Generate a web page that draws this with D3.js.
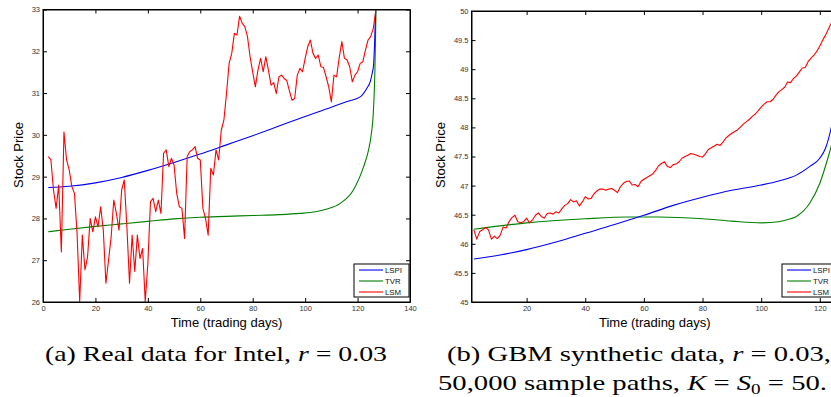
<!DOCTYPE html>
<html>
<head>
<meta charset="utf-8">
<script src="https://cdn.jsdelivr.net/npm/d3@7"></script>
<style>
  html, body { margin: 0; padding: 0; background: #fff; }
  svg { display: block; }
</style>
</head>
<body>
<svg id="chart" width="831" height="397"></svg>
<script>
// ---------------- DATA ----------------
const seriesNames = ["LSPI", "TVR", "LSM"];
const seriesColors = ["#0000ff", "#008000", "#ff0000"];

// Panel (a): real data for Intel
const aXTicks = [0, 20, 40, 60, 80, 100, 120, 140];
const aYTicks = [26, 27, 28, 29, 30, 31, 32, 33];
const aYTickLabels = ["26", "27", "28", "29", "30", "31", "32", "33"];
const aLSPI = [[2,28.74],[10,28.77],[20,28.85],[30,28.98],[40,29.15],[50,29.34],[60,29.54],[70,29.76],[80,29.98],[90,30.21],[100,30.44],[110,30.66],[116,30.80],[121,30.91],[123.5,31.11],[124.8,31.27],[125.7,31.51],[126.1,31.67],[126.5,32.2],[127,33.2]];
const aTVR = [[2,27.68],[10,27.74],[20,27.81],[30,27.87],[40,27.93],[50,27.99],[60,28.03],[70,28.05],[80,28.07],[90,28.09],[98,28.12],[104,28.16],[108,28.22],[113.4,28.36],[118.4,28.68],[122.3,29.24],[124.2,29.64],[125.2,30.0],[126,30.52],[126.6,31.5],[127.1,33.2]];
const aLSMStartDay = 2;
const aLSM = [29.48,29.41,28.68,28.24,28.80,27.20,30.07,29.40,29.16,28.76,
  28.60,27.64,26.01,27.60,26.77,27.08,28.00,27.68,28.04,27.80,
  28.28,27.72,26.45,27.00,27.56,28.44,28.12,27.72,28.68,28.92,
  27.80,26.45,27.60,26.73,27.60,27.04,27.28,26.01,26.92,28.40,
  28.48,28.16,28.44,28.12,29.56,29.64,29.24,29.44,29.28,28.60,
  28.28,28.24,27.52,29.48,29.60,29.64,29.72,29.44,29.40,28.24,
  28.00,27.60,29.20,29.04,29.64,29.40,30.11,30.35,30.99,31.71,
  31.95,32.43,32.39,32.84,32.67,32.59,32.35,31.87,31.50,31.15,
  31.55,31.83,31.51,31.87,31.55,31.19,31.25,30.99,31.39,31.43,
  31.35,31.30,31.05,30.83,30.87,31.43,31.59,31.51,31.83,32.11,
  32.27,31.95,31.83,31.91,31.63,31.61,31.39,31.15,30.79,31.43,
  31.39,31.85,32.23,31.83,31.79,31.63,31.27,31.43,31.51,31.71,
  31.75,32.03,32.27,32.35,32.55,33.00];

// Panel (b): GBM synthetic data
const bXTicks = [20, 40, 60, 80, 100, 120];
const bYTicks = [45, 45.5, 46, 46.5, 47, 47.5, 48, 48.5, 49, 49.5, 50];
const bYTickLabels = ["45", "45.5", "46", "46.5", "47", "47.5", "48", "48.5", "49", "49.5", "50"];
const bLSPI = [[2,45.74],[10,45.80],[20,45.90],[30,46.03],[40,46.18],[50,46.33],[60,46.49],[70,46.66],[80,46.80],[90,46.92],[100,47.01],[106,47.08],[112,47.18],[116.6,47.33],[120,47.47],[122,47.65],[124,48.02],[126,48.6]];
const bTVR = [[2,46.25],[20,46.36],[40,46.43],[55,46.46],[65,46.46],[80,46.43],[90,46.39],[100,46.36],[106,46.38],[110,46.43],[112,46.47],[116.6,46.70],[120,47.04],[122.9,47.50],[124,47.70],[126,48.3]];
const bLSMStartDay = 2;
const bLSM = [46.24,46.08,46.21,46.24,46.28,46.24,46.08,46.13,46.09,46.15,
  46.29,46.27,46.38,46.45,46.49,46.38,46.36,46.38,46.44,46.36,
  46.41,46.49,46.53,46.47,46.44,46.52,46.53,46.51,46.55,46.53,
  46.60,46.66,46.69,46.76,46.72,46.74,46.65,46.72,46.81,46.77,
  46.78,46.86,46.91,46.94,46.94,46.92,46.94,46.95,46.92,46.88,
  46.98,47.04,47.07,47.08,47.01,47.02,46.98,47.07,47.11,47.14,
  47.17,47.20,47.26,47.34,47.38,47.41,47.33,47.31,47.36,47.37,
  47.41,47.47,47.50,47.52,47.55,47.54,47.52,47.50,47.49,47.55,
  47.62,47.65,47.68,47.71,47.69,47.75,47.82,47.86,47.90,47.93,
  47.96,48.01,48.06,48.10,48.14,48.19,48.23,48.29,48.35,48.40,
  48.44,48.44,48.48,48.55,48.61,48.65,48.69,48.78,48.77,48.84,
  48.88,48.95,49.02,49.03,49.13,49.19,49.24,49.31,49.40,49.50,
  49.59,49.70,49.80,49.90,50.00];

// ---------------- DRAW ----------------
const svg = d3.select("#chart");
const tickFont = "'Liberation Sans', Arial, sans-serif";

function lsmPoints(start, vals) { return vals.map((v, i) => [start + i, v]); }

function panel(cfg) {
  const x = d3.scaleLinear().domain(cfg.xDomain).range([cfg.left, cfg.right]);
  const y = d3.scaleLinear().domain(cfg.yDomain).range([cfg.bottom, cfg.top]);
  const g = svg.append("g");

  const clipId = "clip-" + cfg.id;
  svg.append("clipPath").attr("id", clipId).append("rect")
    .attr("x", cfg.left).attr("y", cfg.top)
    .attr("width", cfg.right - cfg.left).attr("height", cfg.bottom - cfg.top);

  // axes with inward ticks
  const bottomAx = d3.axisBottom(x).tickValues(cfg.xTicks).tickSizeInner(-4).tickSizeOuter(0).tickPadding(4);
  const topAx = d3.axisTop(x).tickValues(cfg.xTicks).tickSizeInner(-4).tickSizeOuter(0).tickFormat("");
  const leftAx = d3.axisLeft(y).tickValues(cfg.yTicks).tickSizeInner(-4).tickSizeOuter(0).tickPadding(3)
    .tickFormat((d, i) => cfg.yTickLabels[i]);
  const rightAx = d3.axisRight(y).tickValues(cfg.yTicks).tickSizeInner(-4).tickSizeOuter(0).tickFormat("");

  const styleAxis = sel => {
    sel.selectAll("path").attr("stroke", "#000").attr("stroke-width", 1);
    sel.selectAll("line").attr("stroke", "#000").attr("stroke-width", 1);
    sel.selectAll("text").attr("font-family", tickFont).attr("font-size", 7.5).attr("fill", "#333");
  };
  g.append("g").attr("transform", `translate(0,${cfg.bottom})`).call(bottomAx).call(styleAxis);
  g.append("g").attr("transform", `translate(0,${cfg.top})`).call(topAx).call(styleAxis);
  g.append("g").attr("transform", `translate(${cfg.left},0)`).call(leftAx).call(styleAxis);
  g.append("g").attr("transform", `translate(${cfg.right},0)`).call(rightAx).call(styleAxis);

  // lines
  const lineSmooth = d3.line().x(d => x(d[0])).y(d => y(d[1])).curve(d3.curveMonotoneX);
  const lineRaw = d3.line().x(d => x(d[0])).y(d => y(d[1]));
  const lg = g.append("g").attr("clip-path", `url(#${clipId})`);
  lg.append("path").datum(cfg.tvr).attr("d", lineSmooth).attr("fill", "none")
    .attr("stroke", seriesColors[1]).attr("stroke-width", 1.1);
  lg.append("path").datum(cfg.lspi).attr("d", lineSmooth).attr("fill", "none")
    .attr("stroke", seriesColors[0]).attr("stroke-width", 1.1);
  lg.append("path").datum(cfg.lsm).attr("d", lineRaw).attr("fill", "none")
    .attr("stroke", seriesColors[2]).attr("stroke-width", 1.1).attr("stroke-linejoin", "round");

  // box
  g.append("rect").attr("x", cfg.left).attr("y", cfg.top)
    .attr("width", cfg.right - cfg.left).attr("height", cfg.bottom - cfg.top)
    .attr("fill", "none").attr("stroke", "#000").attr("stroke-width", 1);

  // legend
  const lw = 55, lh = 33;
  const lx = cfg.right - 1 - lw, ly = cfg.bottom - 5 - lh;
  const leg = g.append("g");
  leg.append("rect").attr("x", lx).attr("y", ly).attr("width", lw).attr("height", lh)
    .attr("fill", "#fff").attr("stroke", "#000").attr("stroke-width", 1);
  seriesNames.forEach((n, i) => {
    const yy = ly + 6 + i * 11;
    leg.append("line").attr("x1", lx + 5).attr("x2", lx + 29).attr("y1", yy).attr("y2", yy)
      .attr("stroke", seriesColors[i]).attr("stroke-width", 1.1);
    leg.append("text").attr("x", lx + 31).attr("y", yy + 2.8).text(n)
      .attr("font-family", tickFont).attr("font-size", 7.8).attr("fill", "#111");
  });

  // axis titles
  svg.append("text").attr("x", (cfg.left + cfg.right) / 2).attr("y", 327)
    .attr("text-anchor", "middle").attr("font-family", tickFont).attr("font-size", 13)
    .attr("fill", "#000").text("Time (trading days)");
  svg.append("text").attr("transform", `translate(${cfg.yLabelX},155) rotate(-90)`)
    .attr("text-anchor", "middle").attr("font-family", tickFont).attr("font-size", 13)
    .attr("fill", "#000").text("Stock Price");
}

panel({
  id: "a", left: 43, right: 410, top: 9.5, bottom: 302,
  xDomain: [0, 140], yDomain: [26, 33],
  xTicks: aXTicks, yTicks: aYTicks, yTickLabels: aYTickLabels,
  lspi: aLSPI, tvr: aTVR, lsm: lsmPoints(aLSMStartDay, aLSM), yLabelX: 23
});
panel({
  id: "b", left: 471.5, right: 838, top: 11, bottom: 302,
  xDomain: [1.2, 126.2], yDomain: [45, 50],
  xTicks: bXTicks, yTicks: bYTicks, yTickLabels: bYTickLabels,
  lspi: bLSPI, tvr: bTVR, lsm: lsmPoints(bLSMStartDay, bLSM), yLabelX: 445
});

// captions
const capFont = "'Liberation Serif', 'Times New Roman', serif";
function caption(xPos, yPos, width, parts) {
  const t = svg.append("text").attr("x", xPos).attr("y", yPos)
    .attr("font-family", capFont).attr("font-size", 21).attr("fill", "#000")
    .attr("textLength", width).attr("lengthAdjust", "spacingAndGlyphs");
  parts.forEach(p => {
    const s = t.append("tspan").text(p.t);
    if (p.i) s.attr("font-style", "italic");
    if (p.sub) s.attr("font-size", 14).attr("dy", 4);
    if (p.up) s.attr("dy", -4);
  });
}
caption(45, 361, 342, [{t: "(a) Real data for Intel, "}, {t: "r", i: true}, {t: " = 0.03"}]);
caption(447, 361, 384, [{t: "(b) GBM synthetic data, "}, {t: "r", i: true}, {t: " = 0.03,"}]);
caption(438, 390, 389, [{t: "50,000 sample paths, "}, {t: "K", i: true}, {t: " = "}, {t: "S", i: true}, {t: "0", sub: true}, {t: " = 50.", up: true}]);
</script>
</body>
</html>
